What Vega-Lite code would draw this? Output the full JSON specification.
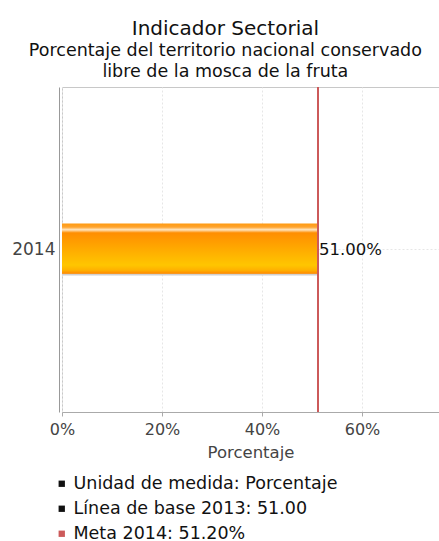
{
  "$schema": "https://vega.github.io/schema/vega-lite/v6.json",
  "autosize": "none",
  "width": 377,
  "height": 325,
  "padding": {"left": 62, "top": 87, "right": 0, "bottom": 129},
  "background": "white",
  "config": {
    "font": "DejaVu Sans",
    "view": {"stroke": "#c8c8c8", "strokeWidth": 1}
  },
  "title": {
    "text": "Indicador Sectorial",
    "subtitle": ["Porcentaje del territorio nacional conservado", "libre de la mosca de la fruta"],
    "anchor": "middle",
    "frame": "bounds",
    "fontSize": 20,
    "fontWeight": "normal",
    "color": "#111111",
    "subtitleFontSize": 17.5,
    "subtitleColor": "#111111",
    "subtitleLineHeight": 21,
    "subtitlePadding": 3,
    "offset": 6
  },
  "datasets": {
    "main": [{"year": "2014", "value": 51.0, "meta": 51.2, "label": "51.00%"}],
    "legend": [
      {"item": "Unidad de medida: Porcentaje"},
      {"item": "Línea de base 2013: 51.00"},
      {"item": "Meta 2014: 51.20%"}
    ]
  },
  "layer": [
    {
      "data": {"name": "main"},
      "mark": {
        "type": "bar",
        "size": 52,
        "color": {
          "gradient": "linear",
          "x1": 0, "y1": 0, "x2": 0, "y2": 1,
          "stops": [
            {"offset": 0, "color": "#ff9a10"},
            {"offset": 0.07, "color": "#ffa530"},
            {"offset": 0.12, "color": "#ffe6c0"},
            {"offset": 0.18, "color": "#ff8e00"},
            {"offset": 0.8, "color": "#ffc600"},
            {"offset": 0.9, "color": "#ffb000"},
            {"offset": 0.96, "color": "#ff8c00"},
            {"offset": 0.97, "color": "#d0d0d0"},
            {"offset": 1, "color": "#d0d0d0"}
          ]
        }
      },
      "encoding": {
        "y": {
          "field": "year", "type": "nominal", "title": null,
          "axis": {
            "labelFontSize": 17, "labelColor": "#444444", "ticks": false,
            "domainColor": "#999999", "offset": 3, "labelPadding": 4,
            "grid": true, "bandPosition": 0.5, "gridColor": "#e6e6e6", "gridDash": [2, 2]
          }
        },
        "x": {
          "field": "value", "type": "quantitative",
          "scale": {"domain": [0, 75.4], "nice": false},
          "title": "Porcentaje",
          "axis": {
            "values": [0, 20, 40, 60],
            "labelExpr": "datum.value + '%'",
            "labelFlush": false,
            "labelFontSize": 16, "labelColor": "#444444", "labelPadding": 5,
            "titleFontSize": 16.5, "titleColor": "#444444", "titleFontWeight": "normal",
            "titlePadding": 7,
            "domainColor": "#aaaaaa", "tickColor": "#aaaaaa", "tickSize": 4,
            "grid": true, "gridColor": "#e6e6e6", "gridDash": [2, 2]
          }
        }
      }
    },
    {
      "data": {"name": "main"},
      "mark": {"type": "rule", "color": "#cc5a5a", "strokeWidth": 2},
      "encoding": {"x": {"field": "meta", "type": "quantitative"}}
    },
    {
      "data": {"name": "main"},
      "mark": {"type": "text", "align": "left", "baseline": "middle", "dx": 1, "fontSize": 16.5, "color": "#111111"},
      "encoding": {
        "y": {"field": "year", "type": "nominal"},
        "x": {"field": "meta", "type": "quantitative"},
        "text": {"field": "label"}
      }
    },
    {
      "data": {"name": "legend"},
      "mark": {"type": "point", "shape": "square", "filled": true, "opacity": 0},
      "encoding": {
        "color": {
          "field": "item", "type": "nominal",
          "scale": {
            "domain": ["Unidad de medida: Porcentaje", "Línea de base 2013: 51.00", "Meta 2014: 51.20%"],
            "range": ["#111111", "#111111", "#cc5a5a"]
          },
          "legend": {
            "title": null, "orient": "none", "legendX": -9, "legendY": 388,
            "direction": "vertical", "padding": 0,
            "symbolType": "square", "symbolSize": 40, "symbolOpacity": 1,
            "symbolStrokeWidth": 0,
            "labelFontSize": 17.5, "labelColor": "#111111", "labelOffset": 3,
            "labelLimit": 400,
            "rowPadding": 6
          }
        }
      }
    }
  ]
}
